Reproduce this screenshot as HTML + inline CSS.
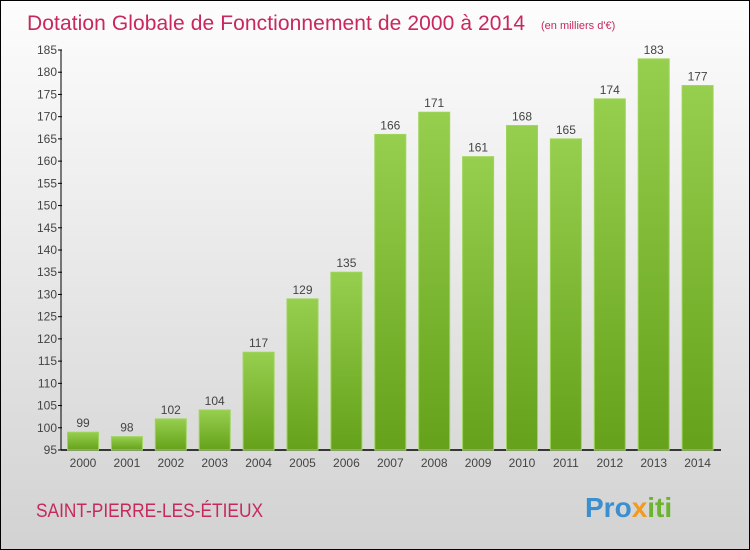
<!DOCTYPE html>
<html><head><meta charset="utf-8"><style>
body{margin:0}
#c{width:748px;height:548px;border:1px solid #000;background:linear-gradient(#fdfdfd,#d2d2d2);position:relative;overflow:hidden;font-family:"Liberation Sans",sans-serif}
</style></head><body>
<div id="c">
<svg width="748" height="548" id="s">
<defs><linearGradient id="g" x1="0" y1="0" x2="0" y2="1"><stop offset="0" stop-color="#96cf4e"/><stop offset="1" stop-color="#65a11a"/></linearGradient></defs>
<text x="26" y="29" font-size="21" fill="#c8285a" textLength="498">Dotation Globale de Fonctionnement de 2000 à 2014</text>
<text x="540" y="28" font-size="11" fill="#c8285a">(en milliers d'€)</text>
<text x="35" y="516" font-size="19" fill="#c8285a" textLength="227" lengthAdjust="spacingAndGlyphs">SAINT-PIERRE-LES-ÉTIEUX</text>
<text x="584" y="516" font-size="28" font-weight="bold"><tspan fill="#3a8fd0">Pro</tspan><tspan fill="#f29a1e">x</tspan><tspan fill="#6ab42e">iti</tspan></text>
<g id="ax"></g><g id="bars"></g>
</svg></div>
<script>
const years=["2000","2001","2002","2003","2004","2005","2006","2007","2008","2009","2010","2011","2012","2013","2014"];
const values=[99,98,102,104,117,129,135,166,171,161,168,165,174,183,177];
const yTicks=[95,100,105,110,115,120,125,130,135,140,145,150,155,160,165,170,175,180,185];
const NS="http://www.w3.org/2000/svg";
const y0=449,yMin=95,yMax=185,yTop=49;
const y=v=>y0-(v-yMin)*(y0-yTop)/(yMax-yMin);
const x=i=>82+i*43.9;
function mk(t,a,p){const e=document.createElementNS(NS,t);for(const k in a)e.setAttribute(k,a[k]);p.appendChild(e);return e;}
const ax=document.getElementById('ax'),bg=document.getElementById('bars');
const yl=mk('line',{x1:60,y1:y(185),x2:60,y2:y0,stroke:'#000','stroke-width':1},ax);


const xl=mk('line',{x1:60,y1:y0,x2:720,y2:y0,stroke:'#000','stroke-width':1.5},ax);


yTicks.forEach(t=>{
 mk('line',{x1:57,x2:61,y1:y(t),y2:y(t),stroke:'#000'},ax);
 const tx=mk('text',{x:56,y:y(t)+4,'font-size':12,fill:'#444','text-anchor':'end'},ax);
 tx.textContent=t;
 
 
});
values.forEach((v,i)=>{
 const r=mk('rect',{x:x(i)-15.5,y:y(v),width:31,height:y0-y(v),fill:'url(#g)',stroke:'#9fd45c','stroke-width':1},bg);
 
 
 const l=mk('text',{x:x(i),y:y(v)-5,'font-size':12,fill:'#444','text-anchor':'middle'},bg);
 l.textContent=v;
 
 
 const xt=mk('text',{x:x(i),y:466,'font-size':12,fill:'#444','text-anchor':'middle'},ax);
 xt.textContent=years[i];
 
 
});
</script>
</body></html>
